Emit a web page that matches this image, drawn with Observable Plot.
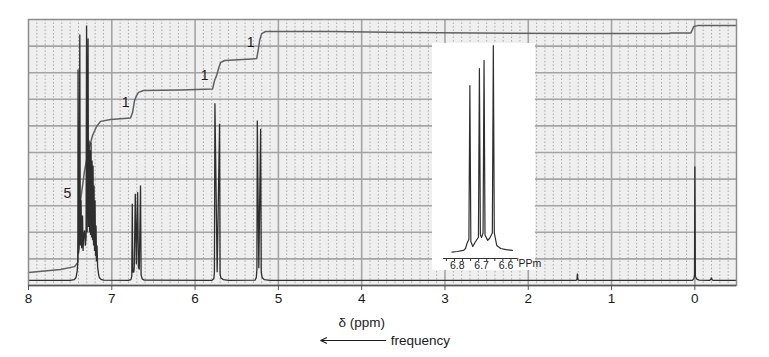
<!DOCTYPE html>
<html><head><meta charset="utf-8">
<script src="https://cdn.jsdelivr.net/npm/d3@7"></script>
<script src="https://cdn.jsdelivr.net/npm/@observablehq/plot@0.6"></script>
<style>
body{margin:0;background:#fff;}
#wrap{position:relative;width:769px;height:357px;overflow:hidden;}
#inset{position:absolute;left:432px;top:43px;}
svg{font-family:"Liberation Sans",Arial,sans-serif;}
</style></head><body><div id="wrap"><div id="main"></div><div id="inset"></div></div>
<script>
// ---- data (ppm, intensity 0-100 of frame height) ----
const xTicks = [8,7,6,5,4,3,2,1,0];
const yGrid = [10,20,30,40,50,60,70,80,90];
const baseline = [[8.0,1.9],[7.5,1.9],[7.10,2.0],[6.80,1.9],[6.61,2.0],[5.80,1.9],[5.60,1.9],[5.28,2.0],[5.10,1.9],[1.43,1.9],[1.39,1.9],[0.03,1.9],[-0.05,2.0],[-0.18,1.9],[-0.22,1.9],[-0.5,1.9]];
const aromatic = [[7.45,2.2],[7.43,3.0],[7.415,5.5],[7.408,9],[7.405,81.2],[7.400,12],[7.392,14],[7.384,94.4],[7.378,15],[7.369,32],[7.362,14],[7.351,26.3],[7.345,13],[7.339,18],[7.327,20.7],[7.318,15],[7.309,18],[7.303,97.7],[7.296,20],[7.285,92.9],[7.279,22],[7.273,54.5],[7.267,20],[7.261,50.8],[7.255,19],[7.249,53.8],[7.243,18],[7.237,47],[7.231,17],[7.225,45.1],[7.219,15],[7.213,37.6],[7.207,13],[7.201,32],[7.195,11],[7.189,22.6],[7.183,9],[7.177,15],[7.170,7],[7.160,4.5],[7.150,3],[7.13,2.3]];
const vinylCH = [[6.77,2.2],[6.76,3.5],[6.754,30.7],[6.748,5],[6.736,5],[6.73,7],[6.718,34.5],[6.705,8],[6.69,35.1],[6.68,7],[6.67,6],[6.655,37.6],[6.648,4],[6.635,2.5]];
const vinylTrans = [[5.775,2.5],[5.768,5],[5.762,68.5],[5.735,5.0],[5.706,60.8],[5.70,4.5],[5.69,2.8],[5.66,2.2]];
const vinylCis = [[5.265,3],[5.258,6],[5.253,62],[5.235,6.5],[5.213,58.9],[5.206,5],[5.195,3],[5.17,2.2]];
const impurity = [[1.415,2.2],[1.41,4.5],[1.405,2.2]];
const tms = [[0.012,2.6],[0.004,4],[0.0,44.7],[-0.006,3.5],[-0.02,2.5],[-0.195,2.6],[-0.2,3.0],[-0.205,2.2]];
const integral = [[8.0,4.9],[7.616,6.0],[7.447,7.1],[7.41,8.6],[7.399,16.9],[7.375,32],[7.327,43.2],[7.279,50.8],[7.231,56.4],[7.183,59.8],[7.135,61.7],[7.015,62.4],[6.775,63],[6.751,65],[6.727,69.5],[6.703,71.4],[6.679,72.6],[6.619,73.3],[6.175,73.5],[5.79,73.9],[5.766,77.1],[5.742,78.9],[5.718,81.6],[5.694,83.8],[5.646,84.6],[5.261,85.3],[5.243,88.3],[5.225,92.1],[5.201,94.7],[5.153,95.5],[4.372,95.5],[3.471,95.1],[1.405,94.7],[0.312,94.7],[0.3,94.9],[0.048,94.9],[0.012,97.4],[-0.036,97.7],[-0.5,97.7]];
const integralLabels = [{x:7.532,y:34.6,t:"5"},{x:6.835,y:68.8,t:"1"},{x:5.886,y:78.9,t:"1"},{x:5.333,y:91.4,t:"1"}];
// inset (6.86–6.55 ppm expansion)
const insetTrace = [[6.821,3.0],[6.80,3.3],[6.774,3.8],[6.766,4.7],[6.760,7],[6.752,9],[6.748,81.2],[6.744,8],[6.736,5.6],[6.727,7.5],[6.713,10],[6.709,89.1],[6.705,11],[6.700,9.9],[6.694,12],[6.690,93],[6.686,11],[6.675,8.5],[6.667,9.5],[6.656,12],[6.652,100],[6.648,12],[6.638,6.1],[6.622,4.7],[6.600,4.2],[6.574,3.8]];
const insetTicks = [6.844,6.811,6.778,6.745,6.712,6.679,6.646,6.613,6.580,6.552];
const insetLabels = [6.8,6.7,6.6];
const freqArrow = [{x1:3.712,x2:4.492}];

const spectrum = [...baseline,...aromatic,...vinylCH,...vinylTrans,...vinylCis,...impurity,...tms].sort((a,b)=>b[0]-a[0]);
const minor = d3.range(79,-5,-1).map(d=>d/10).filter(d=>Math.abs(d-Math.round(d))>1e-9);

const main = Plot.plot({
  width:769, height:357,
  marginTop:19, marginBottom:72, marginLeft:28, marginRight:33,
  x:{domain:[8,-0.5]},
  y:{domain:[0,100], axis:null},
  marks:[
    Plot.frame({fill:"#efefef"}),
    Plot.ruleX(minor,{stroke:"#a8a8a8",strokeWidth:1,strokeDasharray:"1.5,2"}),
    Plot.ruleX([7,6,5,4,3,2,1,0],{stroke:"#a4a4a4",strokeWidth:1.6}),
    Plot.ruleY(yGrid,{stroke:"#a4a4a4",strokeWidth:1.6}),
    Plot.line(integral,{x:d=>d[0],y:d=>d[1],stroke:"#606060",strokeWidth:1.5}),
    Plot.line(spectrum,{x:d=>d[0],y:d=>d[1],stroke:"#2e2e2e",strokeWidth:1.3,strokeLinejoin:"miter"}),
    Plot.text(integralLabels,{x:"x",y:"y",text:"t",fontSize:14,fill:"#1a1a1a"}),
    Plot.frame({stroke:"#8c8c8c",strokeWidth:1.5}),
    Plot.ruleY([0],{stroke:"#555",strokeWidth:1.5}),
    Plot.axisX(xTicks,{tickSize:5,tickPadding:3,fontSize:13.5,label:null,tickFormat:d=>String(d),stroke:"#555",color:"#1a1a1a"}),
    Plot.text(["δ (ppm)"],{x:4,y:0,dy:37,fontSize:13.5,fill:"#1a1a1a"}),
    Plot.arrow(freqArrow,{x1:"x1",x2:"x2",y1:0,y2:0,dy:55,stroke:"#1a1a1a",strokeWidth:1.2,headLength:8,headAngle:50}),
    Plot.text(["frequency"],{x:3.652,y:0,dy:55,textAnchor:"start",fontSize:13.5,fill:"#1a1a1a"})
  ]
});
document.getElementById("main").appendChild(main);

const inset = Plot.plot({
  width:103, height:227,
  marginTop:2, marginBottom:12, marginLeft:11, marginRight:18,
  style:{background:"white",overflow:"visible"},
  x:{domain:[6.856,6.553]},
  y:{domain:[0,100], axis:null},
  marks:[
    Plot.line(insetTrace,{x:d=>d[0],y:d=>d[1],stroke:"#2e2e2e",strokeWidth:1.2}),
    Plot.ruleY([0],{stroke:"#333",strokeWidth:1}),
    Plot.axisX(insetTicks,{tickSize:3,tickFormat:()=>"",label:null,stroke:"#333"}),
    Plot.axisX(insetLabels,{tickSize:0,tickPadding:3,fontSize:10.5,label:null,tickFormat:d=>d.toFixed(1),color:"#1a1a1a"}),
    Plot.text(["PPm"],{frameAnchor:"bottom-right",dx:1,dy:8,textAnchor:"start",fontSize:10.5,fill:"#1a1a1a"})
  ]
});
document.getElementById("inset").appendChild(inset);
</script></body></html>
